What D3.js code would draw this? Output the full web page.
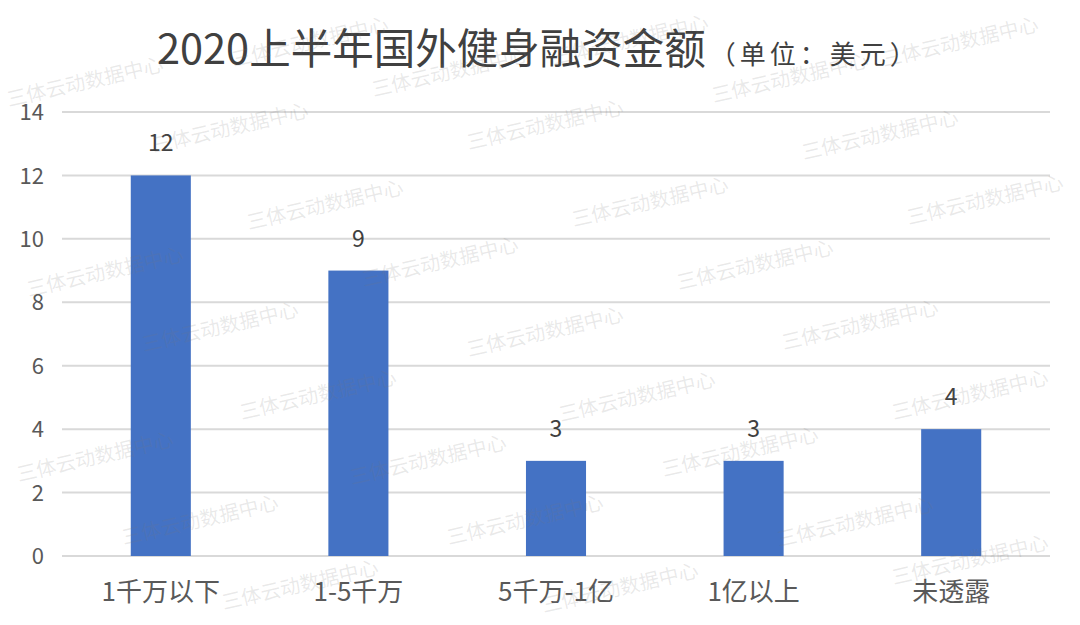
<!DOCTYPE html>
<html><head><meta charset="utf-8">
<script src="https://cdn.jsdelivr.net/npm/d3@7"></script>
<style>body{margin:0;background:#fff}svg{display:block}text{font-family:"Noto Sans CJK SC","Noto Sans",sans-serif}</style>
</head><body><svg id="c" width="1080" height="625"></svg>
<script>
const categories = ["1千万以下","1-5千万","5千万-1亿","1亿以上","未透露"];
const values = [12, 9, 3, 3, 4];
const yTicks = [0,2,4,6,8,10,12,14];
const titleMain = "2020上半年国外健身融资金额";
const titleUnit = "（单位：美元）";
const watermarkText = "三体云动数据中心";
const watermarkSpots = [[310,42],[630,40],[960,42],[85,82],[450,72],[790,78],[230,128],[545,125],[880,135],[325,205],[650,202],[985,200],[105,272],[440,262],[755,265],[220,327],[545,332],[860,325],[318,395],[637,397],[970,395],[95,457],[428,460],[740,452],[200,520],[525,520],[855,522],[300,585],[620,588],[970,560]];

const svg = d3.select("#c");
const m = {left:62, right:1050, top:112, bottom:556};
const x = d3.scaleBand().domain(categories).range([m.left, m.right]).paddingInner(0.696).paddingOuter(0.348);
const y = d3.scaleLinear().domain([0,14]).range([m.bottom, m.top]);

// gridlines
svg.append("g").selectAll("line").data(yTicks).join("line")
  .attr("x1", m.left).attr("x2", m.right)
  .attr("y1", d=>y(d)).attr("y2", d=>y(d))
  .attr("stroke", "#d9d9d9").attr("stroke-width", 2);

// y axis labels
const yAxis = d3.axisLeft(y).tickValues(yTicks).tickSize(0).tickPadding(0);
const ya = svg.append("g").attr("transform", `translate(44,0)`).call(yAxis);
ya.select(".domain").remove();
ya.selectAll("text").attr("font-size", 22).attr("fill", "#595959").attr("dy","0.35em")
  .style("font-family",'"Noto Sans CJK SC",sans-serif');

// bars
svg.append("g").selectAll("rect").data(values).join("rect")
  .attr("x", (d,i)=>x(categories[i])).attr("width", x.bandwidth())
  .attr("y", d=>y(d)).attr("height", d=>y(0)-y(d))
  .attr("fill", "#4472C4");

// data labels
svg.append("g").selectAll("text").data(values).join("text")
  .attr("x", (d,i)=>x(categories[i]) + x.bandwidth()/2)
  .attr("y", d=>y(d) - 24)
  .attr("text-anchor","middle").attr("font-size", 23).attr("fill","#404040")
  .text(d=>d);

// x axis labels
const xAxis = d3.axisBottom(x).tickSize(0).tickPadding(0);
const xa = svg.append("g").attr("transform", `translate(0,${m.bottom})`).call(xAxis);
xa.select(".domain").remove();
xa.selectAll("text").attr("font-size", 26).attr("fill","#595959").attr("dy", 0).attr("y", 45)
  .style("font-family",'"Noto Sans CJK SC",sans-serif');

// title
const t = svg.append("text").attr("x", 157).attr("y", 64).attr("fill","#404040");
t.append("tspan").attr("font-size", 41.5).text(titleMain);
t.append("tspan").attr("font-size", 26).attr("dx", 4).attr("letter-spacing", 4).text(titleUnit);

// watermarks
svg.append("g").selectAll("text").data(watermarkSpots).join("text")
  .attr("transform", d=>`translate(${d[0]},${d[1]}) rotate(-13)`)
  .attr("text-anchor","middle").attr("dy","0.35em")
  .attr("font-size", 20).attr("fill","rgba(120,120,120,0.16)")
  .text(watermarkText);
</script></body></html>
